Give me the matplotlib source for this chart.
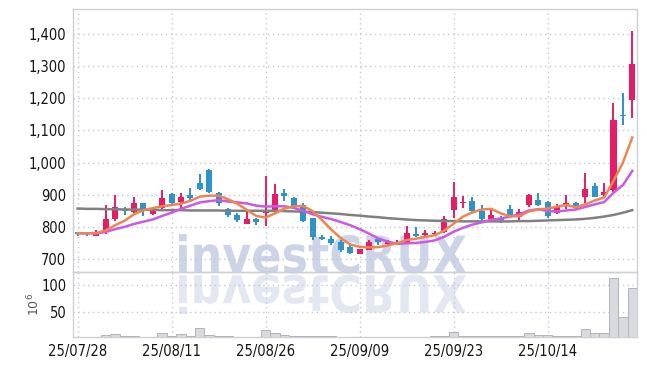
"""
Candlestick chart with 5/10/long moving averages and volume panel
"""

# ============================================================
# Import Libraries
# ============================================================
import matplotlib
matplotlib.use('Agg')
import matplotlib.pyplot as plt
from matplotlib import font_manager
from matplotlib.font_manager import FontProperties
from matplotlib.textpath import TextPath
from matplotlib.patches import PathPatch
from matplotlib.transforms import Affine2D

# ============================================================
# Data
# ============================================================
OPEN = [783, 781, 771, 785, 823, 853, 846, 873, 840, 858,
        902, 877, 900, 935, 977, 906, 854, 837, 810, 825,
        844, 846, 904, 890, 867, 827, 769, 763, 754, 738,
        715, 729, 763, 748, 748, 750, 779, 775, 777, 785,
        852, 873, 881, 850, 825, 829, 854, 831, 867, 883,
        877, 844, 867, 873, 894, 927, 898, 915, 1147, 1194]
HIGH = [785, 782, 789, 869, 900, 861, 894, 874, 858, 915,
        905, 906, 921, 965, 979, 908, 860, 843, 854, 829,
        957, 933, 917, 893, 873, 829, 775, 773, 760, 742,
        732, 760, 765, 760, 758, 802, 798, 790, 786, 833,
        940, 896, 892, 869, 852, 833, 869, 854, 902, 906,
        880, 871, 898, 877, 969, 935, 935, 1185, 1217, 1408]
LOW = [773, 773, 770, 779, 817, 836, 844, 835, 838, 855,
       870, 860, 883, 914, 905, 866, 830, 815, 809, 807,
       802, 842, 880, 855, 815, 760, 758, 742, 721, 714,
       714, 727, 743, 744, 745, 748, 768, 769, 774, 782,
       828, 858, 846, 819, 816, 813, 833, 819, 863, 866,
       829, 840, 854, 852, 873, 892, 892, 908, 1117, 1140]
CLOSE = [779, 778, 783, 823, 862, 851, 875, 848, 854, 890,
         875, 894, 890, 919, 908, 873, 838, 821, 825, 815,
         846, 902, 896, 862, 817, 767, 762, 749, 729, 718,
         731, 754, 752, 756, 754, 781, 771, 781, 781, 825,
         894, 877, 848, 825, 837, 821, 835, 846, 900, 869,
         833, 865, 875, 861, 917, 894, 910, 1133, 1145, 1308]

# Moving averages as drawn in the picture
MA_SHORT = [780, 780, 780, 789, 805, 819, 839, 852, 858, 864,
            868, 872, 881, 894, 897, 897, 886, 872, 853, 834,
            829, 842, 857, 864, 865, 849, 821, 791, 765, 745,
            738, 736, 737, 742, 749, 759, 763, 769, 774, 788,
            810, 832, 845, 854, 856, 842, 833, 833, 848, 854,
            857, 863, 868, 861, 870, 882, 891, 943, 1000, 1078]
MA_MID = [780, 780, 780, 784, 793, 800, 809, 816, 823, 834,
          844, 856, 866, 876, 880, 883, 879, 876, 873, 866,
          863, 864, 864, 859, 850, 839, 831, 824, 815, 805,
          793, 779, 764, 754, 747, 749, 750, 753, 758, 769,
          785, 797, 807, 814, 822, 826, 832, 839, 851, 855,
          849, 848, 851, 854, 862, 870, 877, 906, 930, 974]
MA_LONG = [857, 856, 856, 855, 855, 854, 854, 853, 853, 852,
           852, 852, 851, 851, 851, 851, 850, 850, 850, 850,
           850, 850, 849, 848, 847, 846, 844, 842, 840, 837,
           835, 832, 830, 827, 825, 823, 821, 820, 819, 818,
           818, 817, 817, 817, 817, 817, 817, 818, 818, 819,
           820, 821, 822, 823, 825, 828, 832, 837, 844, 852]

# Volume (unit: 10^6)
VOLUME = [4.5, 4.5, 4.5, 7.7, 10.0, 6.0, 6.0, 4.8, 4.8, 11.3,
          6.0, 9.5, 6.0, 20.5, 8.5, 6.0, 6.0, 5.2, 5.0, 5.0,
          17.4, 12.2, 7.7, 6.0, 6.0, 6.0, 5.5, 5.5, 5.0, 5.0,
          4.8, 4.8, 4.5, 4.5, 4.5, 4.5, 4.5, 4.5, 5.5, 6.0,
          13.7, 6.0, 5.5, 5.5, 5.5, 5.5, 5.5, 5.5, 11.3, 7.7,
          7.7, 6.0, 6.0, 6.0, 18.6, 12.4, 12.4, 112.0, 40.6, 93.7]

TICK_POS = [0, 10, 20, 30, 40, 50]
TICK_LABELS = ['25/07/28', '25/08/11', '25/08/26', '25/09/09', '25/09/23', '25/10/14']
PRICE_TICKS = [700, 800, 900, 1000, 1100, 1200, 1300, 1400]
VOLUME_TICKS = [50, 100]

# ============================================================
# Styles
# ============================================================
UP_COLOR = '#e61d65'
DOWN_COLOR = '#2e93c6'
SHORT_COLOR = '#ee8550'
MID_COLOR = '#cc58e6'
LONG_COLOR = '#808080'
GRID_COLOR = '#c3c7d6'
FRAME_COLOR = '#cfd0d6'
TEXT_COLOR = '#151515'


def narrow_font():
    """Find a narrow sans font file; fall back to a smaller Roboto."""
    wanted = ['Liberation Sans Narrow', 'DejaVu Sans']
    for fam in wanted:
        for f in font_manager.fontManager.ttflist:
            if f.name != fam or f.style != 'normal':
                continue
            if 'Narrow' in fam or f.stretch == 'condensed' or 'Condensed' in f.fname:
                if 'Bold' in f.fname or 'Oblique' in f.fname or 'Italic' in f.fname:
                    continue
                return FontProperties(fname=f.fname, size=10.5)
    return FontProperties(family='Roboto', size=9.5)


tick_font = narrow_font()

# ============================================================
# Figure layout (pixel-matched to 647 x 366)
# ============================================================
W, H = 647, 366
fig = plt.figure(figsize=(W / 100, H / 100), dpi=100)
fig.patch.set_facecolor('white')

left, right = 73.3 / W, 637 / W
ax = fig.add_axes([left, 1 - 272.3 / H, right - left, (272.3 - 9.3) / H])
axv = fig.add_axes([left, 1 - 337.3 / H, right - left, 65 / H], sharex=ax)
for a in (ax, axv):
    a.set_facecolor('none')
    for s in a.spines.values():
        s.set_color(FRAME_COLOR)
        s.set_linewidth(1)
    a.tick_params(length=0, colors=TEXT_COLOR)
    a.grid(True, color=GRID_COLOR, linestyle=(0, (1, 2.5)), linewidth=1.0)
    a.set_axisbelow(True)

# ============================================================
# Watermark with mirrored reflection
# ============================================================
wm_path = TextPath((0, 0), 'investCRUX', size=50,
                   prop=FontProperties(family='DejaVu Sans', weight='bold'))
bb = wm_path.get_extents()
box_x0, box_x1 = 179, 466
box_top, base = 234, 273.5
sx = (box_x1 - box_x0) / bb.width
sy = (base - box_top) / bb.height
base_disp = H - base
main_tr = Affine2D().translate(-bb.x0, -bb.y0).scale(sx, sy).translate(box_x0, base_disp)
refl_tr = Affine2D().translate(-bb.x0, -bb.y0).scale(sx, -sy).translate(box_x0, base_disp - 1)
fig.patches.append(PathPatch(main_tr.transform_path(wm_path), facecolor='#c6cde3',
                             edgecolor='none', alpha=0.85, zorder=-1,
                             transform=None, figure=fig))
fig.patches.append(PathPatch(refl_tr.transform_path(wm_path), facecolor='#dde1ee',
                             edgecolor='none', alpha=0.8, zorder=-1,
                             transform=None, figure=fig))

# ============================================================
# Candles
# ============================================================
x = list(range(len(CLOSE)))
min_body = 4.5
for i in x:
    o, h, l, c = OPEN[i], HIGH[i], LOW[i], CLOSE[i]
    col = UP_COLOR if c >= o else DOWN_COLOR
    ax.vlines(i, l, h, color=col, linewidth=1.4, zorder=3)
    lo = min(o, c)
    hgt = abs(c - o)
    if hgt < min_body:
        lo = (o + c) / 2 - min_body / 2
        hgt = min_body
    ax.bar(i, hgt, bottom=lo, width=0.64, color=col, linewidth=0, zorder=4)

ax.plot(x, MA_LONG, color=LONG_COLOR, linewidth=1.8, zorder=5)
ax.plot(x, MA_MID, color=MID_COLOR, linewidth=1.8, zorder=5)
ax.plot(x, MA_SHORT, color=SHORT_COLOR, linewidth=1.8, zorder=5)

ax.set_xlim(-0.45, 59.5)
ax.set_ylim(658.6, 1476.9)
ax.set_yticks(PRICE_TICKS)
ax.set_yticklabels([f'{v:,}' for v in PRICE_TICKS], fontproperties=tick_font)
ax.tick_params(axis='x', labelbottom=False)
ax.tick_params(axis='y', pad=5)

# ============================================================
# Volume panel
# ============================================================
axv.bar(x, VOLUME, width=1.0, color='#d9d9e0', edgecolor='#b3b3bb',
        linewidth=0.7, zorder=3)
axv.set_ylim(3.8, 122.8)
axv.set_yticks(VOLUME_TICKS)
axv.set_yticklabels([str(v) for v in VOLUME_TICKS], fontproperties=tick_font)
axv.set_xticks(TICK_POS)
axv.set_xticklabels(TICK_LABELS, fontproperties=tick_font)
axv.tick_params(axis='y', pad=5)
axv.tick_params(axis='x', pad=5)
plt.rcParams['mathtext.fontset'] = 'dejavuserif'
axv.set_ylabel(r'$10^6$', fontsize=9, color='#555555')
axv.yaxis.set_label_coords((42 - 73.3) / 563.7, 0.5)

fig.savefig('out.png', dpi=100)
plt.close(fig)
print('Saved: out.png')
